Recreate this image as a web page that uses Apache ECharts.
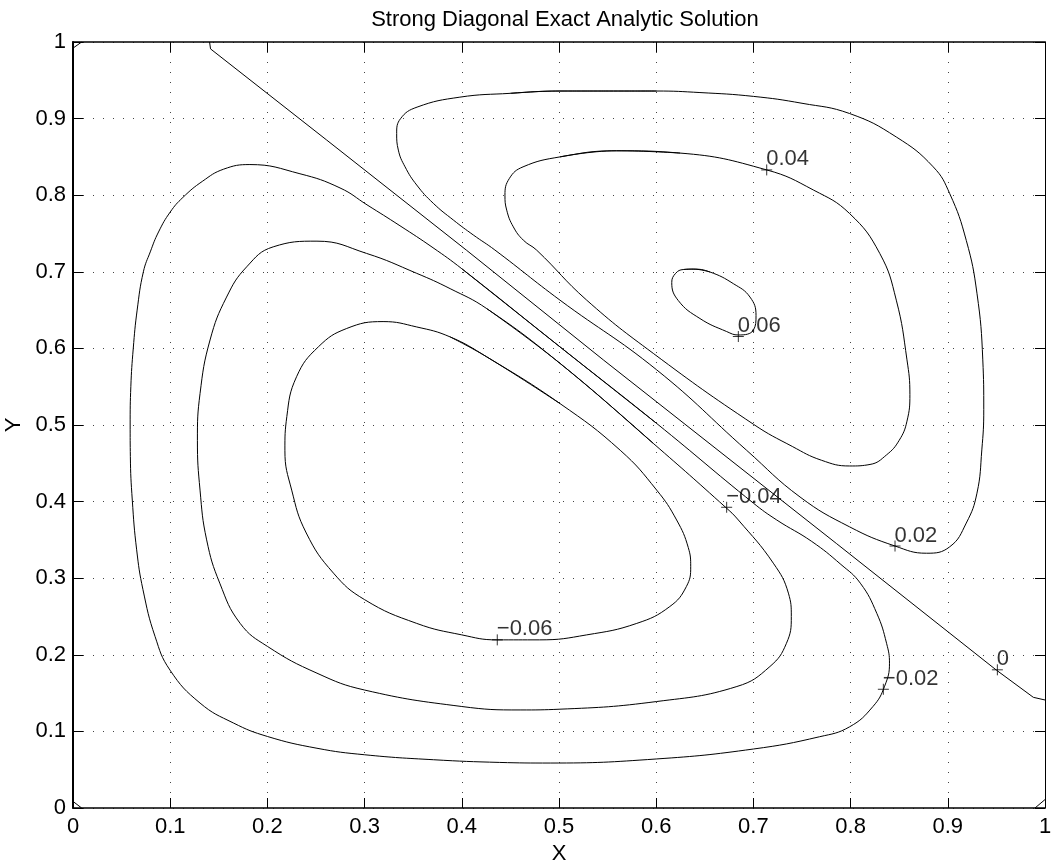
<!DOCTYPE html>
<html>
<head>
<meta charset="utf-8">
<script src="https://cdn.jsdelivr.net/npm/echarts@6/dist/echarts.min.js"></script>
<style>
html,body{margin:0;padding:0;background:#fff;}
#chart{width:1052px;height:867px;}
</style>
</head>
<body>
<div id="chart"></div>
<script>
// ---- data (x, y in data units) ----
const titleText = 'Strong Diagonal Exact Analytic Solution';
const xTicks = [0,0.1,0.2,0.3,0.4,0.5,0.6,0.7,0.8,0.9,1];
const yTicks = [0,0.1,0.2,0.3,0.4,0.5,0.6,0.7,0.8,0.9,1];

// closed contour loops (first point repeated at the end)
const contourNeg06 = [[0.4256,0.589],[0.388,0.615],[0.3536,0.628],[0.319,0.635],[0.2816,0.626],[0.2524,0.602],[0.230,0.563],[0.220,0.511],[0.218,0.467],[0.225,0.415],[0.240,0.359],[0.268,0.3066],[0.300,0.272],[0.3536,0.241],[0.400,0.226],[0.436,0.2195],[0.480,0.2195],[0.5285,0.226],[0.580,0.241],[0.614,0.263],[0.631,0.289],[0.6355,0.315],[0.633,0.340],[0.621,0.376],[0.6005,0.415],[0.563,0.467],[0.501,0.528],[0.4256,0.589]];

const contourNeg04 = [[0.501,0.5805],[0.4256,0.652],[0.388,0.678],[0.3536,0.698],[0.302,0.724],[0.251,0.740],[0.206,0.7326],[0.1787,0.7065],[0.158,0.667],[0.141,0.611],[0.1307,0.541],[0.128,0.480],[0.1307,0.415],[0.1375,0.350],[0.151,0.2935],[0.172,0.241],[0.2,0.211],[0.251,0.176],[0.300,0.154],[0.400,0.1325],[0.46,0.128],[0.501,0.129],[0.6005,0.139],[0.683,0.1586],[0.717,0.1847],[0.734,0.215],[0.739,0.25],[0.736,0.2805],[0.7205,0.3196],[0.6845,0.376],[0.671,0.393],[0.597,0.476],[0.501,0.5805]];

const contourNeg02 = [[0.501,0.602],[0.40,0.704],[0.3704,0.7314],[0.3364,0.7601],[0.3025,0.7874],[0.2747,0.8095],[0.2335,0.828],[0.182,0.840],[0.155,0.834],[0.133,0.818],[0.113,0.797],[0.100,0.778],[0.088,0.752],[0.0795,0.726],[0.0724,0.700],[0.066,0.650],[0.062,0.600],[0.0595,0.550],[0.0588,0.500],[0.059,0.459],[0.061,0.402],[0.0655,0.337],[0.072,0.285],[0.0844,0.224],[0.0998,0.180],[0.1307,0.137],[0.165,0.111],[0.2,0.0934],[0.251,0.078],[0.300,0.0695],[0.371,0.063],[0.439,0.0595],[0.491,0.0587],[0.600,0.064],[0.700,0.077],[0.768,0.093],[0.799,0.106],[0.823,0.1325],[0.835,0.159],[0.840,0.189],[0.837,0.215],[0.827,0.254],[0.810,0.2935],[0.790,0.318],[0.760,0.348],[0.724,0.376],[0.700,0.398],[0.6005,0.502],[0.501,0.602]];

const contourPos02 = [[0.501,0.936],[0.6005,0.936],[0.645,0.934],[0.700,0.929],[0.750,0.920],[0.799,0.9066],[0.847,0.876],[0.885,0.837],[0.902,0.802],[0.919,0.741],[0.930,0.672],[0.936,0.585],[0.937,0.52],[0.935,0.4675],[0.930,0.411],[0.919,0.372],[0.902,0.341],[0.878,0.3326],[0.8457,0.342],[0.799,0.367],[0.748,0.406],[0.693,0.467],[0.6005,0.572],[0.501,0.663],[0.434,0.7285],[0.4118,0.7481],[0.3913,0.7676],[0.3707,0.7894],[0.3536,0.8133],[0.3416,0.8371],[0.3347,0.8589],[0.333,0.8806],[0.337,0.900],[0.354,0.915],[0.398,0.928],[0.450,0.933],[0.501,0.936]];

const contourPos04 = [[0.559,0.858],[0.6245,0.855],[0.7137,0.833],[0.762,0.8066],[0.799,0.776],[0.830,0.724],[0.847,0.663],[0.858,0.585],[0.861,0.540],[0.858,0.505],[0.850,0.480],[0.837,0.461],[0.820,0.4485],[0.799,0.4465],[0.770,0.454],[0.740,0.472],[0.700,0.501],[0.597,0.5935],[0.5285,0.663],[0.477,0.7283],[0.4633,0.7413],[0.453,0.7587],[0.4462,0.7805],[0.4444,0.800],[0.449,0.822],[0.463,0.837],[0.501,0.850],[0.559,0.858]];

const contourPos06 = [[0.638,0.7035],[0.6554,0.6997],[0.6794,0.6845],[0.6965,0.667],[0.7027,0.643],[0.700,0.624],[0.6845,0.6175],[0.6725,0.622],[0.645,0.639],[0.6227,0.6625],[0.616,0.686],[0.620,0.698],[0.628,0.703],[0.638,0.7035]];

// open contour pieces of the zero level
const contourZero = [[0.1405,1.0],[0.1415,0.991],[0.261,0.872],[0.405,0.728],[0.5456,0.585],[0.7857,0.345],[0.950,0.180],[0.988,0.1445],[1.0,0.141]];
const cornerTopLeft = [[0,0.992],[0.0089,1.0]];
const cornerBottomLeft = [[0,0.0086],[0.0089,0]];
const cornerBottomRight = [[0.9897,0],[1.0,0.011]];

// in-line contour labels: marker position and text
const labelPoints = [[0.7137,0.833],[0.6845,0.6155],[0.6725,0.3926],[0.8457,0.342],[0.951,0.1804],[0.8337,0.155],[0.4365,0.2195]];
const labelTexts = ['0.04','0.06','\u22120.04','0.02','0','\u22120.02','\u22120.06'];

// ---- chart ----
const FONT = '"Liberation Sans", Arial, Helvetica, sans-serif';
const closedLoops = [contourNeg06, contourNeg04, contourNeg02, contourPos02, contourPos04, contourPos06];
const openLines = [contourZero, cornerTopLeft, cornerBottomLeft, cornerBottomRight];

// wrap a closed loop by one point on each side so the smoothing has no seam
const wrapLoop = d => [d[d.length - 2]].concat(d, [d[1]]);

const series = [];
closedLoops.forEach(d => series.push({
  type:'line', data:wrapLoop(d), smooth:0.45, showSymbol:false, symbol:'none', clip:true, silent:true,
  lineStyle:{color:'#000', width:1}, xAxisIndex:0, yAxisIndex:0, z:3
}));
openLines.forEach(d => series.push({
  type:'line', data:d, smooth:false, showSymbol:false, symbol:'none', clip:true, silent:true,
  lineStyle:{color:'#000', width:1}, xAxisIndex:0, yAxisIndex:0, z:3
}));
series.push({
  type:'scatter', xAxisIndex:0, yAxisIndex:0, z:4, silent:true,
  data: labelPoints.map((p,i)=>[p[0],p[1],labelTexts[i]]),
  symbol:'path://M0,5L10,5M5,0L5,10', symbolSize:11,
  itemStyle:{color:'rgba(0,0,0,0)', borderColor:'#000', borderWidth:1},
  label:{show:true, formatter:p=>p.data[2], position:[5.5,6.5], align:'left', verticalAlign:'bottom',
    color:'#000', fontSize:22, fontFamily:FONT}
});

const fmt = v => String(Math.round(v*10)/10);

const option = {
  animation:false,
  backgroundColor:'#fff',
  title:{text:titleText, left:560, top:4, textAlign:'center',
    textStyle:{fontFamily:FONT, fontSize:22, fontWeight:'normal', color:'#000'}},
  grid:{left:73, top:42, width:972, height:766, containLabel:false, outerBoundsMode:'none', show:false},
  xAxis:[
    {type:'value', min:xTicks[0], max:xTicks[xTicks.length-1], interval:0.1, position:'bottom',
     name:'X', nameLocation:'middle', nameGap:33,
     nameTextStyle:{fontFamily:FONT, fontSize:22, color:'#000'},
     axisLine:{show:true, onZero:false, lineStyle:{color:'#000', width:1.5}},
     axisTick:{show:true, inside:true, length:10, lineStyle:{color:'#000', width:1}},
     axisLabel:{show:true, margin:8, color:'#000', fontSize:22, fontFamily:FONT, formatter:fmt},
     splitLine:{show:true, lineStyle:{color:'#444', width:1, type:[1,9]}}},
    {type:'value', min:xTicks[0], max:xTicks[xTicks.length-1], interval:0.1, position:'top',
     axisLine:{show:true, onZero:false, lineStyle:{color:'#000', width:1.5}},
     axisTick:{show:true, inside:true, length:10, lineStyle:{color:'#000', width:1}},
     axisLabel:{show:false}, splitLine:{show:false}}
  ],
  yAxis:[
    {type:'value', min:yTicks[0], max:yTicks[yTicks.length-1], interval:0.1, position:'left',
     name:'Y', nameLocation:'middle', nameGap:45,
     nameTextStyle:{fontFamily:FONT, fontSize:22, color:'#000'},
     axisLine:{show:true, onZero:false, lineStyle:{color:'#000', width:2}},
     axisTick:{show:true, inside:true, length:10, lineStyle:{color:'#000', width:1}},
     axisLabel:{show:true, margin:7, color:'#000', fontSize:22, fontFamily:FONT, formatter:fmt},
     splitLine:{show:true, lineStyle:{color:'#444', width:1, type:[1,9]}}},
    {type:'value', min:yTicks[0], max:yTicks[yTicks.length-1], interval:0.1, position:'right',
     axisLine:{show:true, onZero:false, lineStyle:{color:'#000', width:1}},
     axisTick:{show:true, inside:true, length:10, lineStyle:{color:'#000', width:1}},
     axisLabel:{show:false}, splitLine:{show:false}}
  ],
  series: series
};

const chart = echarts.init(document.getElementById('chart'), null, {renderer:'canvas'});
chart.setOption(option);
</script>
</body>
</html>
